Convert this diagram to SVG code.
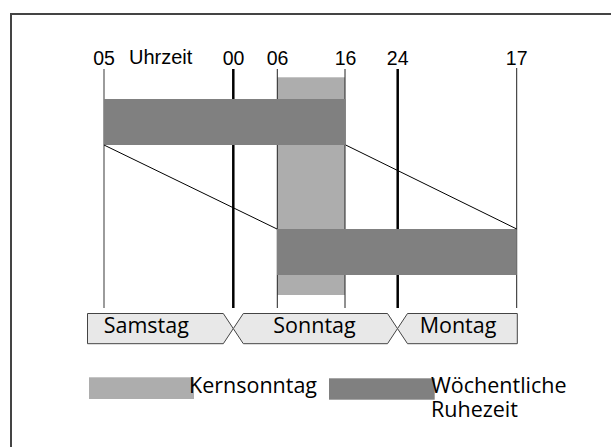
<svg xmlns="http://www.w3.org/2000/svg" width="611" height="447" viewBox="0 0 611 447">
<style>
.num{font-family:"Liberation Sans",Arial,sans-serif;font-size:19.5px;fill:#000;text-anchor:middle}
.lbl{font-family:"Liberation Sans",Arial,sans-serif;font-size:20px;fill:#000}
.day{font-family:"Open Sans","Noto Sans",sans-serif;font-size:21.5px;fill:#000;text-anchor:middle}
.leg{font-family:"Open Sans","Noto Sans",sans-serif;font-size:21.5px;fill:#000}
.box{fill:#e8e8e8;stroke:#444;stroke-width:1}
.core{fill:#adadad}
.rest{fill:#808080}
.thick{stroke:#000;stroke-width:2.5}
.thin{stroke:#222;stroke-width:1}
.gray{stroke:#666;stroke-width:1.3}
</style>
<rect width="611" height="447" fill="#fff"/>
<path d="M11,447 V14 H611" fill="none" stroke="#444" stroke-width="2"/>

<g id="kernsonntag-band">
<rect class="core" x="277.3" y="77.3" width="67.7" height="217.7"/>
</g>

<g id="time-axis">
<line class="gray" x1="104" y1="69" x2="104" y2="308"/>
<line class="thick" x1="233.3" y1="69" x2="233.3" y2="308"/>
<line class="thin" x1="277.3" y1="69" x2="277.3" y2="308"/>
<line class="thin" x1="345" y1="69" x2="345" y2="308"/>
<line class="thick" x1="397.7" y1="69" x2="397.7" y2="308"/>
<line class="thin" x1="516.7" y1="68" x2="516.7" y2="308"/>
<text class="num" x="104" y="65">05</text>
<text class="lbl" x="129" y="63.5">Uhrzeit</text>
<text class="num" x="233.5" y="65">00</text>
<text class="num" x="277.5" y="65">06</text>
<text class="num" x="345.5" y="65">16</text>
<text class="num" x="397.7" y="65">24</text>
<text class="num" x="516.7" y="65">17</text>
</g>

<g id="ruhezeit-1">
<rect class="rest" x="104" y="99" width="241.7" height="46"/>
</g>
<g id="ruhezeit-2">
<rect class="rest" x="277" y="229" width="239.7" height="46"/>
</g>

<g id="connectors" fill="none" stroke="#000" stroke-width="1">
<line x1="104" y1="145" x2="277" y2="229"/>
<line x1="345.7" y1="145" x2="516.7" y2="229"/>
</g>

<g id="samstag">
<polygon class="box" points="87.5,313.5 223.3,313.5 233.3,328.6 223.3,343.7 87.5,343.7"/>
<text class="day" x="146.3" y="333">Samstag</text>
</g>
<g id="sonntag">
<polygon class="box" points="243.3,313.5 387.5,313.5 397.5,328.6 387.5,343.7 243.3,343.7 233.3,328.6"/>
<text class="day" x="314.5" y="333">Sonntag</text>
</g>
<g id="montag">
<polygon class="box" points="407.5,313.5 517.3,313.5 517.3,343.7 407.5,343.7 397.5,328.6"/>
<text class="day" x="458" y="333">Montag</text>
</g>

<g id="legend-kernsonntag">
<rect class="core" x="89" y="377.3" width="105" height="21.7"/>
<text class="leg" x="189" y="393.3">Kernsonntag</text>
</g>
<g id="legend-ruhezeit">
<rect class="rest" x="329" y="378.3" width="105.7" height="21.4"/>
<text class="leg" x="431" y="393.3">Wöchentliche</text>
<text class="leg" x="431" y="416.7">Ruhezeit</text>
</g>
</svg>
